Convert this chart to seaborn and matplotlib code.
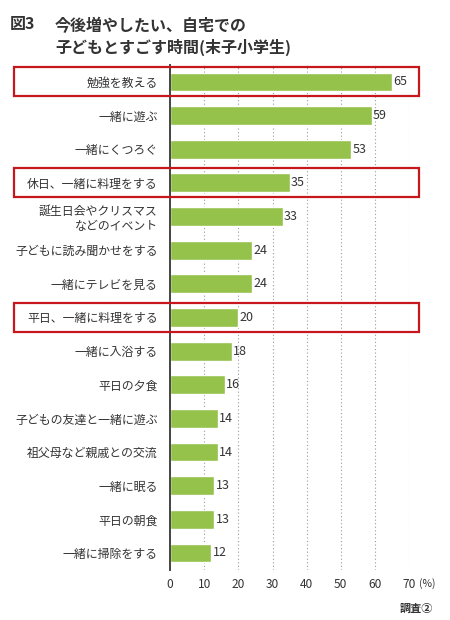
import matplotlib
matplotlib.use("Agg")
import matplotlib.pyplot as plt
import matplotlib.transforms as mtransforms
from matplotlib.patches import Rectangle
import seaborn as sns
import pandas as pd

# data
activities = [
    "勉強を教える",
    "一緒に遊ぶ",
    "一緒にくつろぐ",
    "休日、一緒に料理をする",
    "誕生日会やクリスマス\nなどのイベント",
    "子どもに読み聞かせをする",
    "一緒にテレビを見る",
    "平日、一緒に料理をする",
    "一緒に入浴する",
    "平日の夕食",
    "子どもの友達と一緒に遊ぶ",
    "祖父母など親戚との交流",
    "一緒に眠る",
    "平日の朝食",
    "一緒に掃除をする",
]
percent = [65, 59, 53, 35, 33, 24, 24, 20, 18, 16, 14, 14, 13, 13, 12]
highlighted = ["勉強を教える", "休日、一緒に料理をする", "平日、一緒に料理をする"]
x_ticks = [0, 10, 20, 30, 40, 50, 60, 70]

title_num = "図3"
title_text = "今後増やしたい、自宅での\n子どもとすごす時間(末子小学生)"
source_note = "調査②"

df = pd.DataFrame({"activity": activities, "percent": percent})

sns.set_style("white")
plt.rcParams["font.family"] = ["Noto Sans CJK JP", "DejaVu Sans"]

text_col = "#333333"
bar_col = "#95c24b"

fig = plt.figure(figsize=(4.5, 6.2), dpi=100)
ax = fig.add_axes([0.378, 0.081, 0.531, 0.814])

sns.barplot(data=df, y="activity", x="percent", orient="h", color=bar_col,
            width=0.56, saturation=1, ax=ax)

ax.set_xlim(0, 70)
ax.set_ylim(len(activities) - 0.5, -0.5)
ax.set_xticks(x_ticks)
ax.set_xticklabels([str(t) for t in x_ticks])
ax.set_xlabel("")
ax.set_ylabel("")

# dotted vertical grid lines
for t in x_ticks[1:]:
    ax.axvline(t, color="#9a9a9a", linestyle=(0, (1, 2.2)), linewidth=0.8, zorder=0)

for side in ["top", "right", "bottom"]:
    ax.spines[side].set_visible(False)
ax.spines["left"].set_color("#444444")
ax.spines["left"].set_linewidth(1.4)

ax.tick_params(axis="both", length=0, colors=text_col)
ax.tick_params(axis="y", labelsize=8.6, pad=9)
ax.tick_params(axis="x", labelsize=8.6, pad=6)

for c in ax.containers:
    ax.bar_label(c, fmt="%d", padding=1, fontsize=9, color=text_col)

ax.annotate("(%)", xy=(70, 0), xycoords=("data", "axes fraction"),
            xytext=(7, -6), textcoords="offset points", ha="left", va="top",
            fontsize=7.5, color=text_col)

# red boxes around highlighted rows
trans = mtransforms.blended_transform_factory(fig.transFigure, ax.transData)
for name in highlighted:
    i = activities.index(name)
    rect = Rectangle((0.032, i - 0.43), 0.900, 0.86, transform=trans,
                     fill=False, edgecolor="#c8161d", linewidth=1.6,
                     clip_on=False, zorder=5)
    fig.patches.append(rect)

fig.text(0.022, 0.962, title_num, fontsize=11.5, fontweight="bold",
         color=text_col, va="center")
fig.text(0.122, 0.940, title_text, fontsize=11.5, fontweight="bold",
         color=text_col, va="center", linespacing=1.3)
fig.text(0.962, 0.019, source_note, fontsize=8, fontweight="bold",
         color=text_col, ha="right", va="center")

fig.savefig("out.png", dpi=100)
